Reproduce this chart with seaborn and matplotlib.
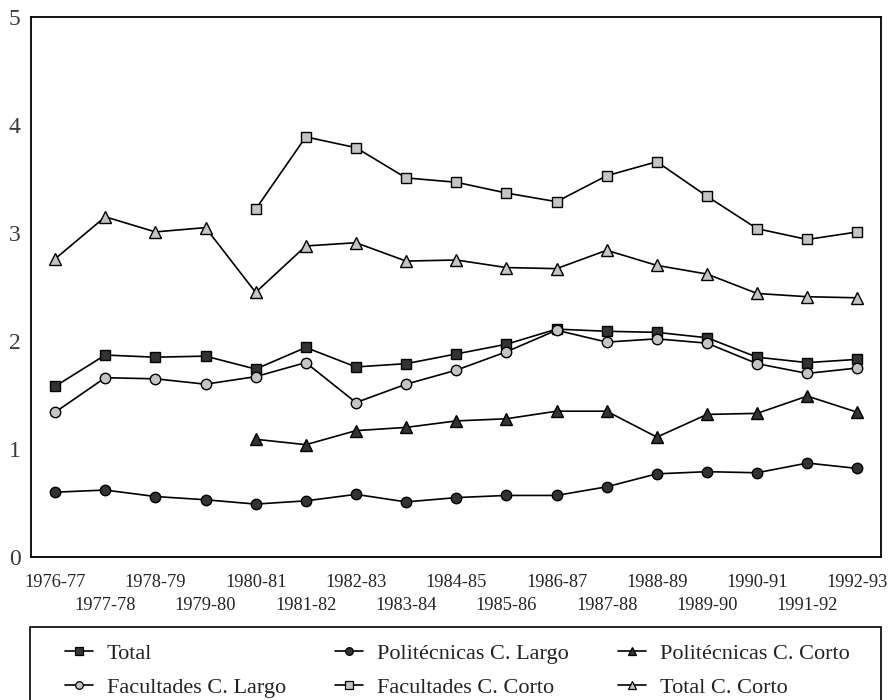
import numpy as np
import pandas as pd
import matplotlib
matplotlib.use("Agg")
import matplotlib.pyplot as plt
from matplotlib.patches import Rectangle
import seaborn as sns

years = ["1976-77", "1977-78", "1978-79", "1979-80", "1980-81", "1981-82",
         "1982-83", "1983-84", "1984-85", "1985-86", "1986-87", "1987-88",
         "1988-89", "1989-90", "1990-91", "1991-92", "1992-93"]
nan = np.nan
total = [1.58, 1.87, 1.85, 1.86, 1.74, 1.94, 1.76, 1.79, 1.88, 1.97, 2.11,
         2.09, 2.08, 2.03, 1.85, 1.80, 1.83]
fac_largo = [1.34, 1.66, 1.65, 1.60, 1.67, 1.80, 1.43, 1.60, 1.73, 1.90,
             2.10, 1.99, 2.02, 1.98, 1.79, 1.70, 1.75]
pol_largo = [0.60, 0.62, 0.56, 0.53, 0.49, 0.52, 0.58, 0.51, 0.55, 0.57,
             0.57, 0.65, 0.77, 0.79, 0.78, 0.87, 0.82]
pol_corto = [nan, nan, nan, nan, 1.09, 1.04, 1.17, 1.20, 1.26, 1.28, 1.35,
             1.35, 1.11, 1.32, 1.33, 1.49, 1.34]
fac_corto = [nan, nan, nan, nan, 3.22, 3.89, 3.79, 3.51, 3.47, 3.37, 3.29,
             3.53, 3.66, 3.34, 3.04, 2.94, 3.01]
total_corto = [2.76, 3.15, 3.01, 3.05, 2.45, 2.88, 2.91, 2.74, 2.75, 2.68,
               2.67, 2.84, 2.70, 2.62, 2.44, 2.41, 2.40]

series_names = ["Total", "Facultades C. Largo", "Politécnicas C. Largo",
                "Facultades C. Corto", "Politécnicas C. Corto", "Total C. Corto"]
series_vals = [total, fac_largo, pol_largo, fac_corto, pol_corto, total_corto]

DARK = "#333333"
LIGHT = "#c4c4c4"
styles = {
    "Total": ("s", DARK, 7),
    "Facultades C. Largo": ("o", LIGHT, 7.5),
    "Politécnicas C. Largo": ("o", DARK, 7.5),
    "Facultades C. Corto": ("s", LIGHT, 7),
    "Politécnicas C. Corto": ("^", DARK, 8),
    "Total C. Corto": ("^", LIGHT, 8),
}

sns.set_style("white")
plt.rcParams["font.family"] = ["Liberation Serif", "DejaVu Serif"]

W, H = 888, 700
fig = plt.figure(figsize=(W / 100, H / 100), dpi=100)
ax = fig.add_axes([31 / W, 1 - 557 / H, (881 - 31) / W, (557 - 17) / H])

idx = np.arange(len(years))
for name, vals in zip(series_names, series_vals):
    m, fc, ms = styles[name]
    df = pd.DataFrame({"x": idx, "y": vals}).dropna()
    sns.lineplot(data=df, x="x", y="y", ax=ax, color="black", linewidth=1.2,
                 marker=m, markersize=ms, markerfacecolor=fc,
                 markeredgecolor="black", markeredgewidth=1.0, label=name,
                 legend=False)

ax.set_xlim(-0.48, 16.47)
ax.set_ylim(0, 5)
ax.set_yticks([0, 1, 2, 3, 4, 5])
ax.set_yticklabels(["0", "1", "2", "3", "4", "5"], fontsize=17, color="#3a3a3a")
ax.set_xticks(idx[::2])
ax.set_xticklabels(years[::2], fontsize=13.2, color="#222222")
ax.set_xticks(idx[1::2], minor=True)
ax.set_xticklabels(years[1::2], minor=True, fontsize=13.2, color="#222222")
ax.tick_params(axis="x", which="major", direction="in", length=9, width=1.2, pad=12.5)
ax.tick_params(axis="x", which="minor", direction="in", length=9, width=1.2, pad=29)
ax.tick_params(axis="y", direction="in", length=9, width=1.2, pad=7.5)
ax.set_xlabel("")
ax.set_ylabel("")
for s in ax.spines.values():
    s.set_visible(True)
    s.set_color("black")
    s.set_linewidth(1.3)

# legend frame
fig.patches.append(Rectangle((30 / W, -0.05), (881 - 30) / W, 0.05 + 1 - 627 / H,
                             transform=fig.transFigure, fill=False,
                             edgecolor="black", linewidth=1.2))

handles = []
for name in series_names:
    m, fc, ms = styles[name]
    h, = ax.plot([], [], color="black", linewidth=1.2, marker=m, markersize=5.5,
                 markerfacecolor=fc, markeredgecolor="black", markeredgewidth=0.9)
    handles.append(h)
leg = fig.legend(handles, series_names, ncol=3, loc="upper left",
                 bbox_to_anchor=(65 / W, 1 - 644 / H, (850 - 65) / W, 0.001),
                 mode="expand", frameon=False, fontsize=16, handlelength=1.26,
                 handletextpad=0.63, borderpad=0, labelspacing=0.62,
                 columnspacing=1.0, borderaxespad=0)
for t in leg.get_texts():
    t.set_color("#222222")

fig.savefig("out.png", dpi=100)
